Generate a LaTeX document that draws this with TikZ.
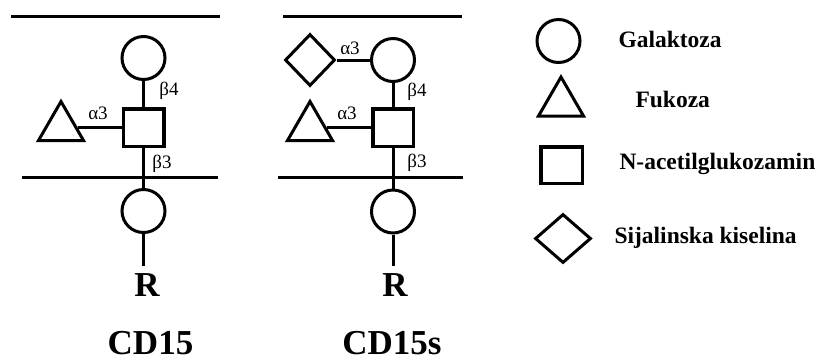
\documentclass[tikz,border=0pt]{standalone}
\usepackage{fontspec}
\setmainfont{Liberation Serif}
\usetikzlibrary{shapes.geometric}

\begin{document}
\begin{tikzpicture}[x=1pt, y=-1pt, line width=3pt,
            gal/.style={circle, draw, inner sep=0pt, minimum size=43pt},
            fuc/.style={regular polygon, regular polygon sides=3, draw, inner sep=0pt, minimum size=52pt},
            glc/.style={rectangle, draw, line width=3.5pt, inner sep=0pt, minimum width=40.5pt, minimum height=37.5pt},
            sia/.style={diamond, draw, inner sep=0pt, minimum width=50pt, minimum height=52pt},
            bond/.style={inner sep=0pt, font=\fontsize{19}{22}\selectfont},
            big/.style={inner sep=0pt, font=\fontsize{35}{40}\selectfont\bfseries},
            legend/.style={inner sep=0pt, anchor=base west, font=\fontsize{23.5}{28}\selectfont\bfseries}]
    \useasboundingbox (0,0) rectangle (821,360);
    % CD15
    \coordinate (tl1) at (11,16);   \coordinate (tr1) at (220,16);
    \coordinate (ml1) at (22,177);  \coordinate (mr1) at (218,177);
    \node[gal] (gal1) at (143.5,58) {};
    \node[glc] (glc1) at (143.5,127.5) {};
    \node[fuc] (fuc1) at (61,127.5) {};
    \node[gal] (gal2) at (143.5,211) {};
    \coordinate (r1) at (143.5,266);
    \draw (tl1) -- (tr1);
    \draw (ml1) -- (mr1);
    \draw (gal1) -- (glc1);
    \draw (fuc1) -- (glc1);
    \draw (glc1) -- (gal2);
    \draw (gal2) -- (r1);
    \node[bond] at (169,91) {β4};
    \node[bond] at (98,113) {α3};
    \node[bond] at (162,164) {β3};
    \node[big] (R1) at (147,285) {R};
    \node[big] (cd1) at (150.5,343) {CD15};
    % CD15s
    \coordinate (tl2) at (283,16);  \coordinate (tr2) at (462,16);
    \coordinate (ml2) at (278,177); \coordinate (mr2) at (463,177);
    \node[gal] (gal3) at (393,60) {};
    \node[sia] (sia1) at (310,60) {};
    \node[glc] (glc2) at (393,127.5) {};
    \node[fuc] (fuc2) at (310,127.5) {};
    \node[gal] (gal4) at (393,211.5) {};
    \coordinate (r2) at (393,266);
    \draw (tl2) -- (tr2);
    \draw (ml2) -- (mr2);
    \draw (sia1) -- (gal3);
    \draw (gal3) -- (glc2);
    \draw (fuc2) -- (glc2);
    \draw (glc2) -- (gal4);
    \draw (gal4) -- (r2);
    \node[bond] at (350,48) {α3};
    \node[bond] at (417,92) {β4};
    \node[bond] at (347,113) {α3};
    \node[bond] at (417,163) {β3};
    \node[big] (R2) at (395,285) {R};
    \node[big] (cd2) at (392,343.5) {CD15s};
    % legenda
    \node[gal] (lgal) at (558.5,41) {};
    \node[fuc] (lfuc) at (561,103) {};
    \node[glc, minimum width=41.5pt, minimum height=36.5pt] (lglc) at (561.5,165) {};
    \node[sia, minimum width=56pt, minimum height=49pt] (lsia) at (563,238.5) {};
    \node[legend] at (617,47) {Galaktoza};
    \node[legend] at (634,107) {Fukoza};
    \node[legend] at (618,169) {N-acetilglukozamin};
    \node[legend] at (613,243) {Sijalinska kiselina};
\end{tikzpicture}
\end{document}
